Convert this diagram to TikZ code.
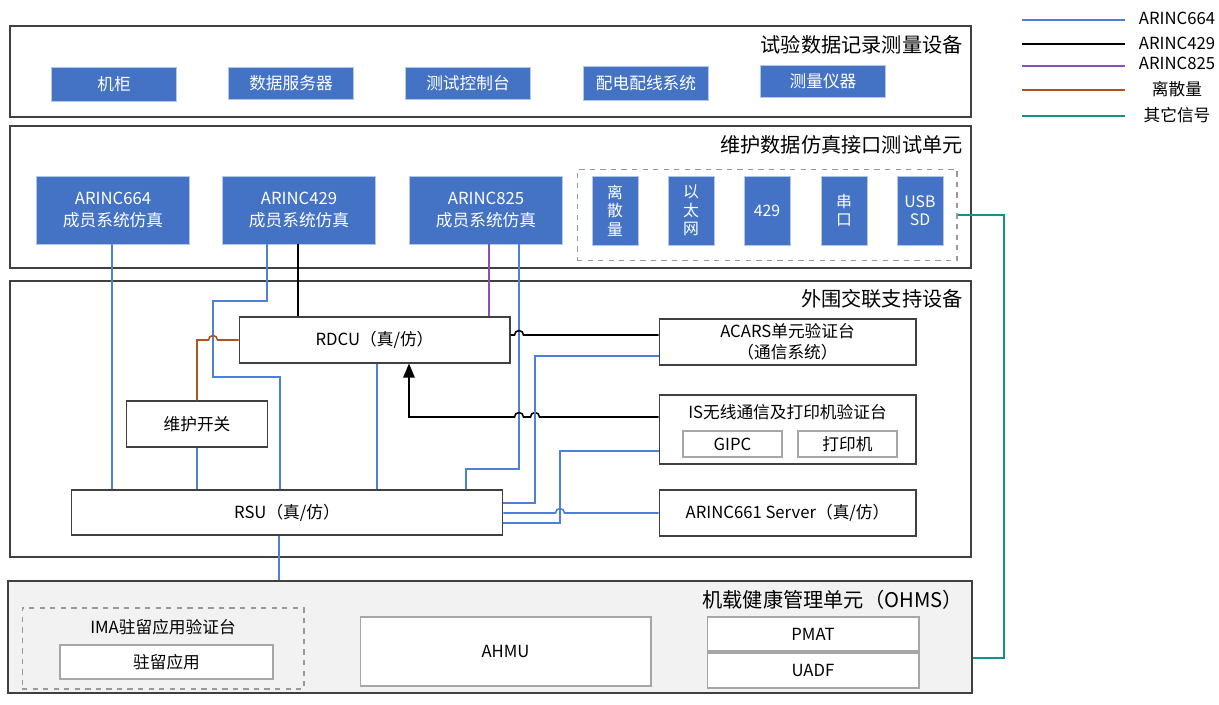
\documentclass[tikz,border=0pt]{standalone}
\usepackage{fontspec}
\setmainfont{Noto Sans CJK SC}
\usetikzlibrary{arrows.meta}
\definecolor{boxblue}{HTML}{4472C4}
\definecolor{boxedge}{HTML}{B4C7E7}
\definecolor{lineblue}{HTML}{4F80D8}
\definecolor{linepurple}{HTML}{8A4DBE}
\definecolor{linebrown}{HTML}{B0541C}
\definecolor{lineteal}{HTML}{14908A}
\definecolor{framegray}{HTML}{404040}
\definecolor{ohmsfill}{HTML}{F2F2F2}
\definecolor{dashgray}{HTML}{999999}

\begin{document}
\begin{tikzpicture}[x=0.02cm,y=-0.02cm,
  unitframe/.style={draw=framegray,line width=0.8pt,inner sep=0pt},
  frametitle/.style={anchor=east,inner sep=0pt,font=\fontsize{11.5}{13}\selectfont},
  bluebox/.style={fill=boxblue,draw=boxedge,line width=0.4pt,text=white,inner sep=0pt,align=center,font=\fontsize{9.5}{12}\selectfont},
  portbox/.style={bluebox,minimum width=0.92cm,minimum height=1.38cm,font=\fontsize{9}{10.5}\selectfont},
  whitebox/.style={fill=white,draw=framegray,line width=0.6pt,inner sep=0pt,align=center,font=\fontsize{9.5}{12}\selectfont},
  graybox/.style={fill=white,draw=gray!70,line width=0.6pt,inner sep=0pt,align=center,font=\fontsize{9.5}{12}\selectfont},
  ifgroup/.style={draw=dashgray,dashed,line width=0.6pt,inner sep=0pt},
  plaintext/.style={inner sep=0pt,font=\fontsize{9.5}{12}\selectfont},
  afdx/.style={draw=lineblue,line width=0.9pt},
  bus429/.style={draw=black,line width=0.9pt},
  bus825/.style={draw=linepurple,line width=0.9pt},
  discrete/.style={draw=linebrown,line width=0.9pt},
  othersig/.style={draw=lineteal,line width=1pt}]
\useasboundingbox (0,0) rectangle (1219,705);

% frames
\node[unitframe,minimum width=19.22cm,minimum height=1.82cm] (recfr) at (490.5,71.5) {};
\node[unitframe,minimum width=19.22cm,minimum height=2.84cm] (simfr) at (490.5,197) {};
\node[unitframe,minimum width=19.22cm,minimum height=5.52cm] (supfr) at (490.5,419) {};
\node[unitframe,fill=ohmsfill,minimum width=19.28cm,minimum height=2.24cm] (ohms) at (490,637) {};
\node[frametitle] (rectitle) at (963,45) {试验数据记录测量设备};
\node[frametitle] (simtitle) at (963,145) {维护数据仿真接口测试单元};
\node[frametitle] (suptitle) at (963,299) {外围交联支持设备};
\node[frametitle] (ohmstitle) at (963,600) {机载健康管理单元（OHMS）};

% test data recording
\node[bluebox,minimum width=2.5cm,minimum height=0.68cm] (cab) at (114,84) {机柜};
\node[bluebox,minimum width=2.5cm,minimum height=0.64cm] (server) at (291,83) {数据服务器};
\node[bluebox,minimum width=2.5cm,minimum height=0.64cm] (console) at (468,83) {测试控制台};
\node[bluebox,minimum width=2.5cm,minimum height=0.68cm] (power) at (646,83) {配电配线系统};
\node[bluebox,minimum width=2.5cm,minimum height=0.64cm] (meter) at (823,81) {测量仪器};

% simulation units
\node[bluebox,minimum width=3.06cm,minimum height=1.36cm] (a664) at (113,210) {ARINC664\\成员系统仿真};
\node[bluebox,minimum width=3.06cm,minimum height=1.36cm] (a429) at (299,210) {ARINC429\\成员系统仿真};
\node[bluebox,minimum width=3.06cm,minimum height=1.36cm] (a825) at (486,210) {ARINC825\\成员系统仿真};
\node[ifgroup,minimum width=7.6cm,minimum height=1.82cm] (iface) at (767,215) {};
\node[portbox] (pdisc) at (615,210.5) {离\\散\\量};
\node[portbox] (peth) at (691,210.5) {以\\太\\网};
\node[portbox] (p429) at (767,210.5) {429};
\node[portbox] (pser) at (844,210.5) {串\\口};
\node[portbox] (pusb) at (920,210.5) {USB\\SD};

% support equipment
\node[whitebox,minimum width=5.42cm,minimum height=0.92cm] (rdcu) at (374.5,340) {RDCU（真/仿）};
\node[whitebox,minimum width=2.82cm,minimum height=0.92cm] (mswitch) at (197,424) {维护开关};
\node[whitebox,minimum width=8.64cm,minimum height=0.9cm] (rsu) at (287,512.5) {RSU（真/仿）};
\node[whitebox,minimum width=5.14cm,minimum height=0.92cm] (acars) at (787.5,342) {ACARS单元验证台\\（通信系统）};
\node[whitebox,minimum width=5.14cm,minimum height=1.38cm] (isb) at (787.5,429.5) {};
\node[plaintext] (istitle) at (787.5,412) {IS无线通信及打印机验证台};
\node[graybox,minimum width=1.98cm,minimum height=0.52cm] (gipc) at (732.5,444) {GIPC};
\node[graybox,minimum width=1.98cm,minimum height=0.52cm] (printer) at (847.5,444) {打印机};
\node[whitebox,minimum width=5.14cm,minimum height=0.92cm] (a661) at (787.5,513) {ARINC661 Server（真/仿）};

% OHMS
\node[ifgroup,minimum width=5.64cm,minimum height=1.62cm] (ima) at (163,648.5) {};
\node[plaintext] (imatitle) at (163,627) {IMA驻留应用验证台};
\node[graybox,minimum width=4.26cm,minimum height=0.68cm] (hosted) at (166.5,662) {驻留应用};
\node[graybox,minimum width=5.82cm,minimum height=1.38cm] (ahmu) at (505.5,651.5) {AHMU};
\node[graybox,minimum width=4.24cm,minimum height=0.68cm] (pmat) at (813,634) {PMAT};
\node[graybox,minimum width=4.24cm,minimum height=0.7cm] (uadf) at (813,670.5) {UADF};

% connectors
\draw[afdx] (a664.south -| 112,0) -- (rsu.north -| 112,0);
\draw[afdx] (a429.south -| 267,0) |- (213,301) |- (280,377) -- (rsu.north -| 280,0);
\draw[bus429] (a429.south -| 298,0) -- (rdcu.north -| 298,0);
\draw[bus825] (a825.south -| 489,0) -- (rdcu.north -| 489,0);
\draw[afdx] (a825.south -| 519,0) |- (466,469) -- (rsu.north -| 466,0);
\draw[afdx] (mswitch.south) -- (mswitch.south |- rsu.north);
\draw[afdx] (rdcu.south -| 377,0) -- (rsu.north -| 377,0);
\draw[afdx] (rsu.south -| 279,0) -- (ohms.north -| 279,0);
\draw[discrete] (mswitch.north) |- (208.5,340) arc[start angle=180,end angle=360,radius=4.5] -- (rdcu.west);
\draw[bus429] (rdcu.east |- 0,335) -- (514.5,335) arc[start angle=180,end angle=360,radius=4.5] -- (acars.west |- 0,335);
\draw[bus429,-{Triangle[length=8pt,width=6.5pt]}] (isb.west |- 0,417) -- (539.5,417) arc[start angle=0,end angle=-180,radius=4.5] -- (523.5,417) arc[start angle=0,end angle=-180,radius=4.5] -- (409,417) -- (rdcu.south -| 409,0);
\draw[afdx] (acars.west |- 0,356) -| (535,503) -- (rsu.east |- 0,503);
\draw[afdx] (isb.west |- 0,451) -| (560,523) -- (rsu.east |- 0,523);
\draw[afdx] (rsu.east |- 0,513) -- (555.5,513) arc[start angle=180,end angle=360,radius=4.5] -- (a661.west);
\draw[othersig] (iface.east) -| (1004,658) -- (ohms.east |- 0,658);

% legend
\draw[afdx] (1022,20) -- (1125,20);
\draw[bus429] (1022,44) -- (1125,44);
\draw[bus825] (1022,66) -- (1125,66);
\draw[discrete] (1022,90) -- (1125,90);
\draw[othersig] (1022,116) -- (1125,116);
\node[plaintext] (lg664) at (1177,18) {ARINC664};
\node[plaintext] (lg429) at (1177,43) {ARINC429};
\node[plaintext] (lg825) at (1177,63) {ARINC825};
\node[plaintext] (lgdisc) at (1177,89) {离散量};
\node[plaintext] (lgother) at (1177,115) {其它信号};
\end{tikzpicture}
\end{document}
